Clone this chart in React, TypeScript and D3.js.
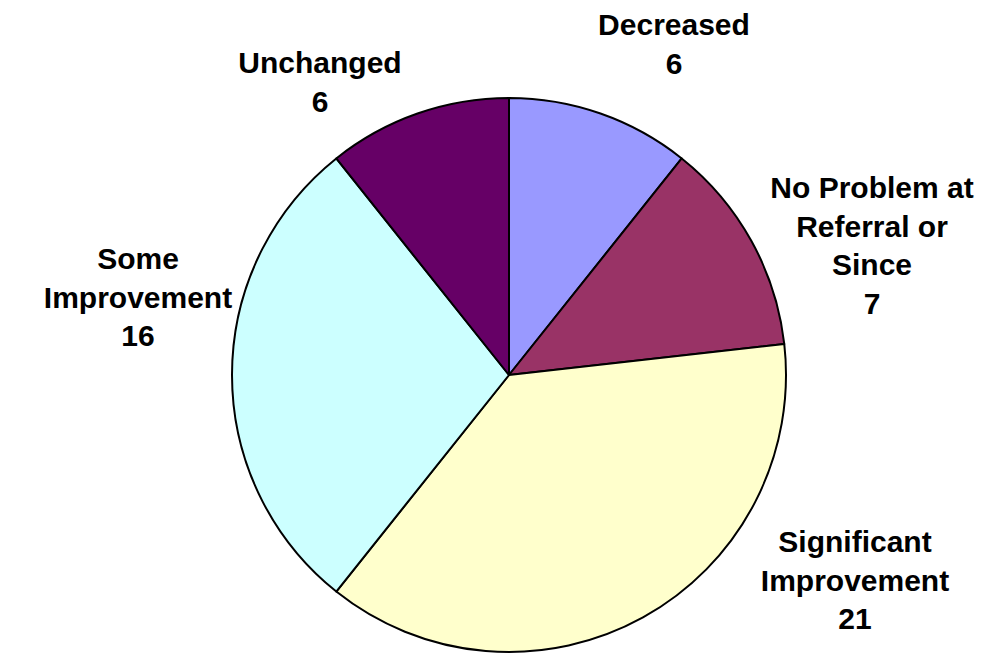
import React, { useEffect, useRef } from 'react';
import * as d3 from 'd3';

const categories = ['Decreased', 'No Problem at Referral or Since', 'Significant Improvement', 'Some Improvement', 'Unchanged'];
const values = [6, 7, 21, 16, 6];
const labelLines = [
    ['Decreased'],
    ['No Problem at', 'Referral or', 'Since'],
    ['Significant', 'Improvement'],
    ['Some', 'Improvement'],
    ['Unchanged'],
];
const colors = ['#9999FF', '#993366', '#FFFFCC', '#CCFFFF', '#660066'];

export default () => {
    const width = 985;
    const height = 655;
    const svgRef = useRef(null);

    useEffect(() => {
        const svg = d3.select(svgRef.current);
        svg.selectAll('*').remove();

        const cx = 509;
        const cy = 375;
        const radius = 277;

        const data = categories.map((c, i) => ({ name: c, value: values[i], lines: labelLines[i], color: colors[i] }));

        const pie = d3.pie<any>()
            .value(d => d.value)
            .sort(null);

        const arc = d3.arc<any>()
            .innerRadius(0)
            .outerRadius(radius);

        const g = svg.append('g')
            .attr('transform', `translate(${cx},${cy})`);

        const arcs = pie(data);

        g.selectAll('path')
            .data(arcs)
            .join('path')
            .attr('d', arc)
            .attr('fill', d => d.data.color)
            .attr('stroke', '#000')
            .attr('stroke-width', 2)
            .attr('stroke-linejoin', 'round');

        // label anchors: x center, first baseline (layout only)
        const labelAnchor = [
            [674, 35],
            [872, 198],
            [855, 552],
            [138, 269],
            [320, 73],
        ];
        const lineStep = 38.5;

        arcs.forEach((a, i) => {
            const [lx, ly] = labelAnchor[i];
            const lines = [...a.data.lines, String(a.data.value)];
            const t = svg.append('text')
                .attr('text-anchor', 'middle')
                .attr('font-family', 'Liberation Sans, Arial, sans-serif')
                .attr('font-weight', 'bold')
                .attr('font-size', 30)
                .attr('fill', '#000');
            lines.forEach((ln, j) => {
                t.append('tspan')
                    .attr('x', lx)
                    .attr('y', ly + j * lineStep)
                    .text(ln);
            });
        });
    }, []);

    return <>
        <svg ref={svgRef} width={width} height={height}
            style={{ position: 'absolute', left: 0, top: 0, background: '#fff' }}></svg>
    </>;
};
